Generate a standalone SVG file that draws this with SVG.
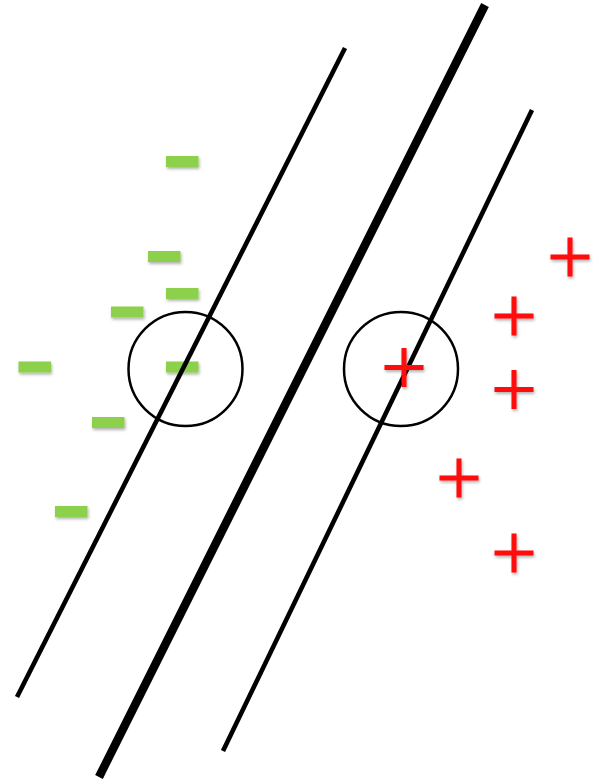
<svg xmlns="http://www.w3.org/2000/svg" width="607" height="783" viewBox="0 0 607 783">
  <style>
    .neg { fill: #8DD04C; filter: url(#shadow); }
    .pos { stroke: #FF0D0D; stroke-width: 5; fill: none; filter: url(#shadow); }
    .margin { stroke: #000; stroke-width: 4.6; stroke-linecap: butt; }
    .boundary { stroke: #000; stroke-width: 8.5; stroke-linecap: butt; }
    .sv { fill: none; stroke: #000; stroke-width: 2.5; }
  </style>
  <defs>
    <filter id="shadow" x="-30%" y="-60%" width="160%" height="220%">
      <feDropShadow dx="1" dy="2" stdDeviation="1.5" flood-color="#000" flood-opacity="0.3"/>
    </filter>
    <path id="plus" d="M-19.5 0H19.5M0 -19.5V19.5"/>
  </defs>
  <rect width="607" height="783" fill="#fff"/>

  <!-- negative samples -->
  <g id="negatives">
    <rect class="neg" x="166" y="156" width="32.5" height="11"/>
    <rect class="neg" x="148" y="251" width="32.5" height="11"/>
    <rect class="neg" x="166" y="288" width="32.5" height="11"/>
    <rect class="neg" x="111" y="306.5" width="32.5" height="11"/>
    <rect class="neg" x="18.5" y="361.5" width="32.5" height="11"/>
    <rect class="neg" x="166" y="361.5" width="32.5" height="11"/>
    <rect class="neg" x="92" y="417" width="32.5" height="11"/>
    <rect class="neg" x="55" y="506" width="32.5" height="11"/>
  </g>

  <!-- margin lines and decision boundary -->
  <g id="lines">
    <line class="margin" x1="345" y1="48" x2="17" y2="697"/>
    <line class="boundary" x1="485" y1="5" x2="99" y2="777"/>
    <line class="margin" x1="532" y1="110" x2="223" y2="751"/>
  </g>

  <!-- support vector circles -->
  <g id="support-vectors">
    <circle class="sv" cx="185.5" cy="369" r="57"/>
    <circle class="sv" cx="401" cy="369" r="57"/>
  </g>

  <!-- positive samples -->
  <g id="positives">
    <use href="#plus" class="pos" x="570" y="257"/>
    <use href="#plus" class="pos" x="514" y="316"/>
    <use href="#plus" class="pos" x="404" y="367.5"/>
    <use href="#plus" class="pos" x="514" y="389.5"/>
    <use href="#plus" class="pos" x="459" y="478"/>
    <use href="#plus" class="pos" x="514" y="553"/>
  </g>
</svg>
